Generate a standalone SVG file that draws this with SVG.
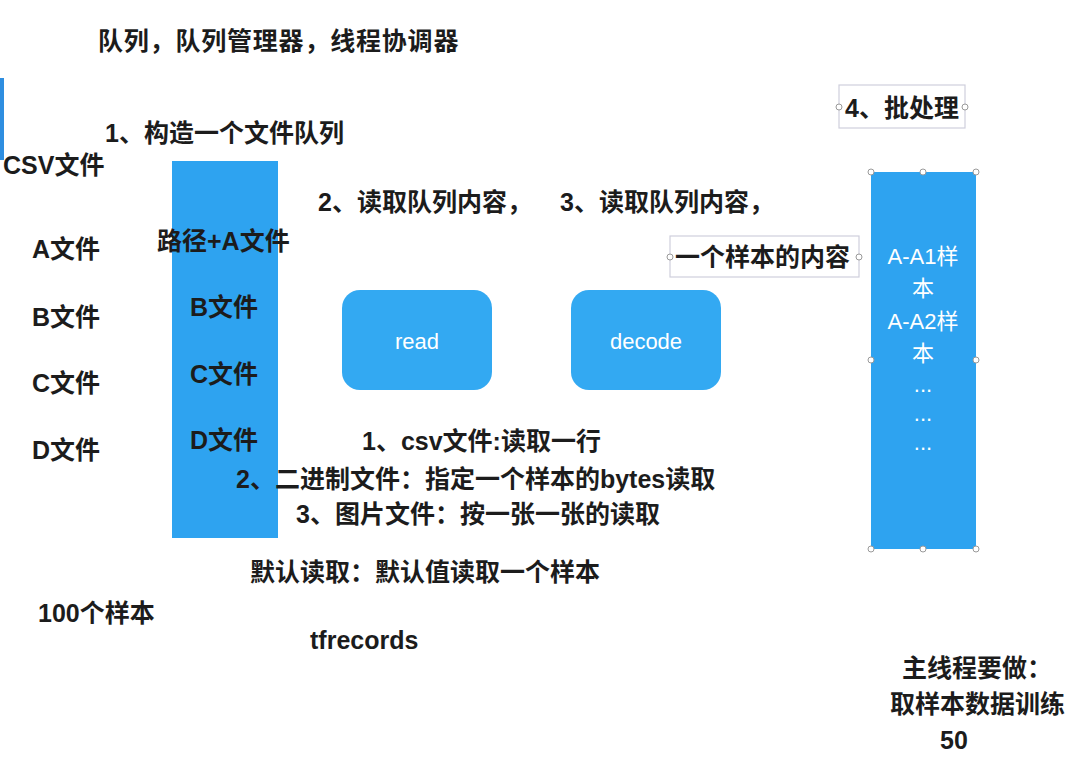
<svg xmlns="http://www.w3.org/2000/svg" width="1090" height="776" viewBox="0 0 1090 776">
<style>
.t{font-family:"Liberation Sans","Noto Sans CJK SC",sans-serif;font-weight:bold;font-size:25px;fill:#1c1c1c}
.w{font-family:"Liberation Sans","Noto Sans CJK SC",sans-serif;font-size:22px;fill:#ffffff;text-anchor:middle}
.bar{fill:#2ea3f0}
.btn{fill:#33a9f2}
.frame{fill:none;stroke:#cfcfdc;stroke-width:1.2}
.h{fill:#ffffff;stroke:#9a9a9a;stroke-width:1}
</style>
<rect width="1090" height="776" fill="#ffffff"/>
<rect x="0" y="78" width="4" height="82" fill="#2e8ee0"/>
<g id="title"><text class="t" x="98" y="50" letter-spacing="0.8">队列，队列管理器，线程协调器</text></g>
<g id="step1"><text class="t" x="105" y="142">1、构造一个文件队列</text></g>
<g id="files-left">
<text class="t" x="3" y="174">CSV文件</text>
<text class="t" x="32" y="258">A文件</text>
<text class="t" x="32" y="326">B文件</text>
<text class="t" x="32" y="392">C文件</text>
<text class="t" x="32" y="459">D文件</text>
</g>
<g id="file-queue">
<rect class="bar" x="172" y="161" width="106" height="377"/>
<text class="t" x="157" y="250">路径+A文件</text>
<text class="t" x="190" y="316">B文件</text>
<text class="t" x="190" y="383">C文件</text>
<text class="t" x="190" y="449">D文件</text>
</g>
<g id="step2"><text class="t" x="318" y="211">2、读取队列内容，</text></g>
<g id="step3"><text class="t" x="560" y="211">3、读取队列内容，</text></g>
<g id="sample-content">
<rect class="frame" x="670" y="236" width="189" height="41"/>
<circle class="h" cx="670" cy="257" r="3"/>
<circle class="h" cx="859" cy="257" r="3"/>
<text class="t" x="675" y="266">一个样本的内容</text>
</g>
<g id="step4">
<rect class="frame" x="839" y="85" width="126" height="43"/>
<circle class="h" cx="839" cy="107" r="3"/>
<circle class="h" cx="965" cy="107" r="3"/>
<text class="t" x="845" y="117">4、批处理</text>
</g>
<g id="read">
<rect class="btn" x="342" y="290" width="150" height="100" rx="18"/>
<text class="w" x="417" y="349">read</text>
</g>
<g id="decode">
<rect class="btn" x="571" y="290" width="150" height="100" rx="18"/>
<text class="w" x="646" y="349">decode</text>
</g>
<g id="batch">
<rect class="bar" x="871" y="172" width="105" height="377"/>
<text class="w" x="923" y="264">A-A1样</text>
<text class="w" x="923" y="296">本</text>
<text class="w" x="923" y="329">A-A2样</text>
<text class="w" x="923" y="361">本</text>
<text class="w" x="923" y="392">...</text>
<text class="w" x="923" y="421">...</text>
<text class="w" x="923" y="450">...</text>
<circle class="h" cx="871" cy="172" r="3"/>
<circle class="h" cx="923" cy="172" r="3"/>
<circle class="h" cx="976" cy="172" r="3"/>
<circle class="h" cx="871" cy="360" r="3"/>
<circle class="h" cx="976" cy="360" r="3"/>
<circle class="h" cx="871" cy="549" r="3"/>
<circle class="h" cx="923" cy="549" r="3"/>
<circle class="h" cx="976" cy="549" r="3"/>
</g>
<g id="read-notes">
<text class="t" x="362" y="450">1、csv文件:读取一行</text>
<text class="t" x="236" y="488">2、二进制文件：指定一个样本的bytes读取</text>
<text class="t" x="296" y="523">3、图片文件：按一张一张的读取</text>
<text class="t" x="250" y="581">默认读取：默认值读取一个样本</text>
</g>
<g id="samples"><text class="t" x="38" y="622">100个样本</text></g>
<g id="tfrecords"><text class="t" x="310" y="649">tfrecords</text></g>
<g id="main-thread">
<text class="t" x="902" y="677">主线程要做：</text>
<text class="t" x="890" y="713">取样本数据训练</text>
<text class="t" x="940" y="749">50</text>
</g>
<g id="connectors"></g>
</svg>
